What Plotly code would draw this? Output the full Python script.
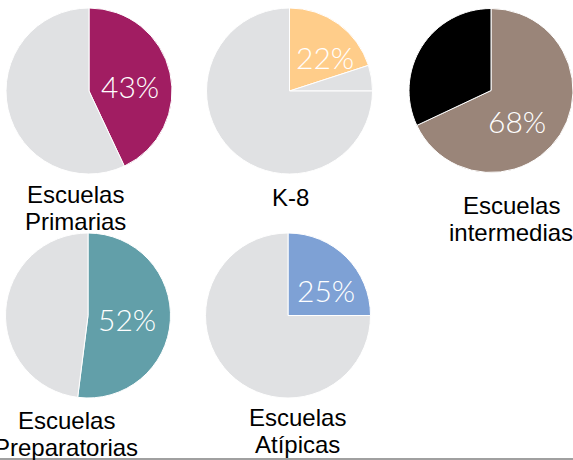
import plotly.graph_objects as go

W, H = 573, 460

# data
names = ["Escuelas Primarias", "K-8", "Escuelas intermedias",
         "Escuelas Preparatorias", "Escuelas Atípicas"]
slice_values = [[43, 57], [20, 5, 75], [68, 32], [52, 48], [25, 75]]
slice_colors = [["#A11D62", "#E0E1E3"],
                ["#FFCD8A", "#E0E1E3", "#E0E1E3"],
                ["#9A8579", "#000000"],
                ["#629FA9", "#E0E1E3"],
                ["#7EA1D5", "#E0E1E3"]]
pct_labels = ["43%", "22%", "68%", "52%", "25%"]
label_lines = [["Escuelas", "Primarias"], ["K-8"], ["Escuelas", "intermedias"],
               ["Escuelas", "Preparatorias"], ["Escuelas", "Atípicas"]]

# pie boxes in pixels: (left, right, top, bottom)
boxes = [(6, 172, 8, 174), (206, 373, 8, 174), (409, 573, 8, 173),
         (5, 171, 233, 398), (205, 371, 233, 398)]
# percentage text centres in pixels
pct_pos = [(130, 86), (325, 57), (517, 121), (127, 319), (326, 290)]
# label placement in pixels: (x centre, first line y)
label_pos = [(75, 194), (290, 197), (511, 205), (66, 420), (297, 417)]
line_gap = 27


def px(x, y):
    return x / W, 1 - y / H


fig = go.Figure()
for i in range(len(names)):
    l, r, t, b = boxes[i]
    fig.add_trace(go.Pie(
        values=slice_values[i],
        labels=[f"{names[i]} {k}" for k in range(len(slice_values[i]))],
        textinfo="none",
        marker=dict(colors=slice_colors[i], line=dict(color="white", width=1)),
        sort=False,
        direction="clockwise",
        rotation=0,
        showlegend=False,
        domain=dict(x=[l / W, r / W], y=[1 - b / H, 1 - t / H]),
    ))
    xp, yp = px(*pct_pos[i])
    fig.add_annotation(
        x=xp, y=yp, xref="paper", yref="paper",
        text=pct_labels[i], showarrow=False,
        xanchor="center", yanchor="middle",
        font=dict(family="Lato", size=30, color="white", weight=300),
    )
    x0, y0 = label_pos[i]
    for j, line in enumerate(label_lines[i]):
        xl, yl = px(x0, y0 + j * line_gap)
        fig.add_annotation(
            x=xl, y=yl, xref="paper", yref="paper",
            text=line, showarrow=False,
            xanchor="center", yanchor="middle",
            font=dict(family="Liberation Sans", size=24, color="black"),
        )

fig.add_shape(type="line", xref="paper", yref="paper",
              x0=0, x1=1, y0=1 - 459 / H, y1=1 - 459 / H,
              line=dict(color="#A0A0A0", width=2))

fig.update_layout(
    width=W, height=H,
    margin=dict(l=0, r=0, t=0, b=0),
    paper_bgcolor="white",
    plot_bgcolor="white",
)

fig.write_html("out.html", config={"displayModeBar": False},
               post_script="document.body.style.margin='0';")
